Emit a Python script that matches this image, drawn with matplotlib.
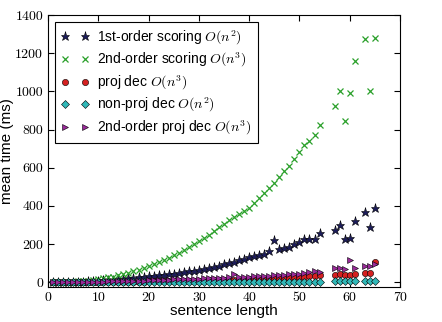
import matplotlib
matplotlib.use('Agg')
import matplotlib.pyplot as plt

# sentence lengths (55, 56 and 62 missing)
lengths = list(range(1, 55)) + [57, 58, 59, 60, 61, 63, 64, 65]

first_order = [0.2, 0.4, 0.7, 1, 1.5, 2.2, 3, 4.5, 6, 8,
               9.5, 11, 13, 15.5, 18, 20, 22.5, 25, 28, 31,
               34, 37, 40, 42.5, 45, 49, 53, 57, 61, 65,
               70, 75, 80, 86, 93, 100, 108, 115, 122, 130,
               137, 144, 150, 165, 221, 172, 179, 186, 198, 210,
               224, 228, 228, 259,
               273, 299, 228, 234, 320, 366, 290, 388]

second_order = [0.5, 1, 1.5, 2.5, 3.5, 5, 7, 9, 12, 16,
                20, 25, 30, 36, 43, 50, 58, 66, 75, 85,
                95, 106, 117, 129, 142, 155, 170, 185, 200, 214,
                232, 250, 268, 287, 305, 325, 342, 358, 372, 390,
                413, 441, 469, 495, 521, 550, 583, 611, 644, 684,
                717, 740, 772, 822,
                926, 1003, 845, 990, 1157, 1274, 1003, 1281]

proj_dec = [0.1, 0.1, 0.2, 0.3, 0.4, 0.5, 0.6, 0.8, 1, 1.2,
            1.4, 1.6, 1.8, 2, 2.3, 2.6, 2.9, 3.3, 3.7, 4,
            4.4, 4.8, 5.2, 5.6, 6, 6.5, 7, 7.5, 8, 8.5,
            9, 9.5, 10, 10.5, 11, 12, 13, 13.5, 14, 15,
            16, 17, 18, 19, 20, 21, 22, 24, 26, 28,
            30, 31, 33, 37,
            37, 45, 40, 40, 44, 50, 50, 107]

nonproj_dec = [0.05, 0.05, 0.1, 0.1, 0.1, 0.15, 0.2, 0.2, 0.25, 0.3,
               0.3, 0.35, 0.4, 0.45, 0.5, 0.55, 0.6, 0.65, 0.7, 0.75,
               0.8, 0.85, 0.9, 0.95, 1, 1.05, 1.1, 1.2, 1.3, 1.4,
               1.5, 1.6, 1.7, 1.8, 1.9, 2, 2.1, 2.2, 2.3, 2.4,
               2.5, 2.6, 2.7, 2.8, 2.9, 3, 3.1, 3.2, 3.3, 3.4,
               3.5, 3.6, 3.7, 3.8,
               4, 4.1, 4.2, 4.3, 4.4, 4.6, 4.7, 4.8]

second_proj_dec = [0.3, 0.5, 0.8, 1, 1.3, 1.6, 2, 2.4, 2.8, 3.2,
                   3.7, 4.2, 4.8, 5.4, 6, 6.7, 7.4, 8.2, 9, 10,
                   11, 12, 12.8, 13.6, 14.4, 15.2, 16, 17, 18, 19,
                   20, 21, 22, 23, 24, 25, 45, 27, 28, 30,
                   31, 32, 33, 35, 37, 38, 40, 41, 43, 45,
                   48, 51, 59, 54,
                   77, 75, 70, 114, 77, 86, 86, 95]

plt.rcParams['mathtext.fontset'] = 'cm'
plt.rcParams['font.family'] = ['Liberation Sans', 'DejaVu Sans']

fig = plt.figure(figsize=(4.42, 3.22), dpi=100)
ax = fig.add_axes([0.1086, 0.1087, 0.7964, 0.8443])

ax.plot(lengths, first_order, '*', color='#1c1c5a', mec='black', mew=0.4, ms=6.5,
        label='1st-order scoring $O(n^2)$')
ax.plot(lengths, second_order, 'x', color='#2aa02a', mew=0.9, ms=4,
        label='2nd-order scoring $O(n^3)$')
ax.plot(lengths, proj_dec, 'o', color='#d42020', mec='black', mew=0.4, ms=4.5,
        label='proj dec $O(n^3)$')
ax.plot(lengths, nonproj_dec, 'D', color='#30b8b8', mec='black', mew=0.4, ms=4,
        label='non-proj dec $O(n^2)$')
ax.plot(lengths, second_proj_dec, '>', color='#9a2a9a', mec='black', mew=0.4, ms=4.5,
        label='2nd-order proj dec $O(n^3)$')

ax.set_xlim(0, 70)
ax.set_ylim(-25, 1400)
ax.set_xticks(range(0, 71, 10))
ax.set_yticks(range(0, 1401, 200))
ax.tick_params(direction='in', top=True, right=True, length=4, labelsize=10)
for lab in ax.get_xticklabels() + ax.get_yticklabels():
    lab.set_fontfamily('cmr10')
ax.set_xlabel('sentence length', fontsize=11, labelpad=0)
ax.set_ylabel('mean time (ms)', fontsize=11, labelpad=1)

leg = ax.legend(loc='upper left', numpoints=2, fontsize=10, fancybox=False,
                framealpha=1, edgecolor='black', borderaxespad=0.5,
                borderpad=0.45, handletextpad=0.6, labelspacing=0.3)
leg.get_frame().set_linewidth(0.8)

fig.savefig('out.png', dpi=100)
